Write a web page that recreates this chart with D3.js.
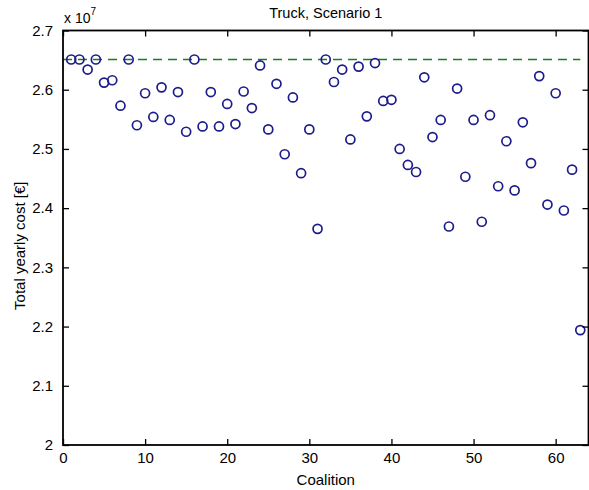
<!DOCTYPE html>
<html>
<head>
<meta charset="utf-8">
<script src="https://cdn.jsdelivr.net/npm/d3@7"></script>
<style>
  html, body { margin: 0; padding: 0; background: #fff; }
  svg { display: block; font-family: "Liberation Sans", Arial, Helvetica, sans-serif; }
</style>
</head>
<body>
<svg id="chart" width="589" height="490"></svg>
<script>
// Total yearly cost per coalition (units of 1e7 €)
const coalitions = d3.range(1, 64);
const totalCost = [
  2.651, 2.651, 2.634, 2.651, 2.612, 2.616, 2.573, 2.651, 2.540, 2.594,
  2.554, 2.604, 2.549, 2.596, 2.529, 2.651, 2.538, 2.596, 2.538, 2.576,
  2.542, 2.597, 2.569, 2.641, 2.533, 2.610, 2.491, 2.587, 2.459, 2.533,
  2.365, 2.651, 2.613, 2.634, 2.516, 2.639, 2.555, 2.645, 2.581, 2.583,
  2.500, 2.473, 2.461, 2.621, 2.520, 2.549, 2.369, 2.602, 2.453, 2.549,
  2.377, 2.557, 2.437, 2.513, 2.430, 2.545, 2.476, 2.623, 2.406, 2.594,
  2.396, 2.465, 2.194
];
// Reference level: cost with no coalition (all stand-alone)
const baselineCost = 2.651;
const baselineSpan = [0, 63];

const xTicks = [0, 10, 20, 30, 40, 50, 60];
const yTicks = [2, 2.1, 2.2, 2.3, 2.4, 2.5, 2.6, 2.7];
const yTickLabels = ["2", "2.1", "2.2", "2.3", "2.4", "2.5", "2.6", "2.7"];

const titleText = "Truck, Scenario 1";
const xLabelText = "Coalition";
const yLabelText = "Total yearly cost [€]";

const svg = d3.select("#chart");
const plotL = 63, plotR = 588.5, plotT = 30.5, plotB = 445;

const x = d3.scaleLinear().domain([0, 64]).range([plotL, plotR]);
const y = d3.scaleLinear().domain([2, 2.7]).range([plotB, plotT]);

svg.append("rect").attr("width", 589).attr("height", 490).attr("fill", "#fff");

// dashed reference line
svg.append("line")
  .attr("x1", x(baselineSpan[0])).attr("x2", x(baselineSpan[1]))
  .attr("y1", y(baselineCost)).attr("y2", y(baselineCost))
  .attr("stroke", "#1f7a1f").attr("stroke-width", 1.4)
  .attr("stroke-dasharray", "9,6");

// data markers
svg.append("g").selectAll("circle")
  .data(coalitions.map((c, i) => ({ c, v: totalCost[i] })))
  .join("circle")
  .attr("cx", d => x(d.c))
  .attr("cy", d => y(d.v))
  .attr("r", 4.5)
  .attr("fill", "none")
  .attr("stroke", "#1c1c8c")
  .attr("stroke-width", 1.7);

// axes (ticks point inward, box on)
const fontSize = 15;
const styleAxis = g => {
  g.select(".domain").remove();
  g.selectAll(".tick line").attr("stroke", "#000").attr("stroke-width", 1.3);
  g.selectAll(".tick text").attr("fill", "#000").style("font-size", fontSize + "px");
};

svg.append("g").attr("transform", `translate(0,${plotB})`)
  .call(d3.axisBottom(x).tickValues(xTicks).tickFormat(d3.format("d"))
    .tickSizeInner(-6).tickSizeOuter(0).tickPadding(7))
  .call(styleAxis);

svg.append("g").attr("transform", `translate(0,${plotT})`)
  .call(d3.axisTop(x).tickValues(xTicks).tickFormat("")
    .tickSizeInner(-6).tickSizeOuter(0))
  .call(styleAxis);

svg.append("g").attr("transform", `translate(${plotL},0)`)
  .call(d3.axisLeft(y).tickValues(yTicks).tickFormat((d, i) => yTickLabels[i])
    .tickSizeInner(-6).tickSizeOuter(0).tickPadding(10))
  .call(styleAxis);

svg.append("g").attr("transform", `translate(${plotR},0)`)
  .call(d3.axisRight(y).tickValues(yTicks).tickFormat("")
    .tickSizeInner(-6).tickSizeOuter(0))
  .call(styleAxis);

// plot frame
svg.append("rect")
  .attr("x", plotL).attr("y", plotT)
  .attr("width", plotR - plotL).attr("height", plotB - plotT)
  .attr("fill", "none").attr("stroke", "#000").attr("stroke-width", 1.8);

// exponent label
const expo = svg.append("text").attr("x", plotL + 1).attr("y", 23)
  .attr("fill", "#000").style("font-size", "14px");
expo.append("tspan").text("x 10");
expo.append("tspan").attr("dy", -8).style("font-size", "10px").text("7");

// title and axis labels
svg.append("text").attr("x", (plotL + plotR) / 2).attr("y", 18)
  .attr("text-anchor", "middle").attr("fill", "#000")
  .style("font-size", "14.5px").text(titleText);

svg.append("text").attr("x", (plotL + plotR) / 2).attr("y", 485)
  .attr("text-anchor", "middle").attr("fill", "#000")
  .style("font-size", fontSize + "px").text(xLabelText);

svg.append("text")
  .attr("transform", `translate(25,${(plotT + plotB) / 2 + 8}) rotate(-90)`)
  .attr("text-anchor", "middle").attr("fill", "#000")
  .style("font-size", fontSize + "px").text(yLabelText);
</script>
</body>
</html>
